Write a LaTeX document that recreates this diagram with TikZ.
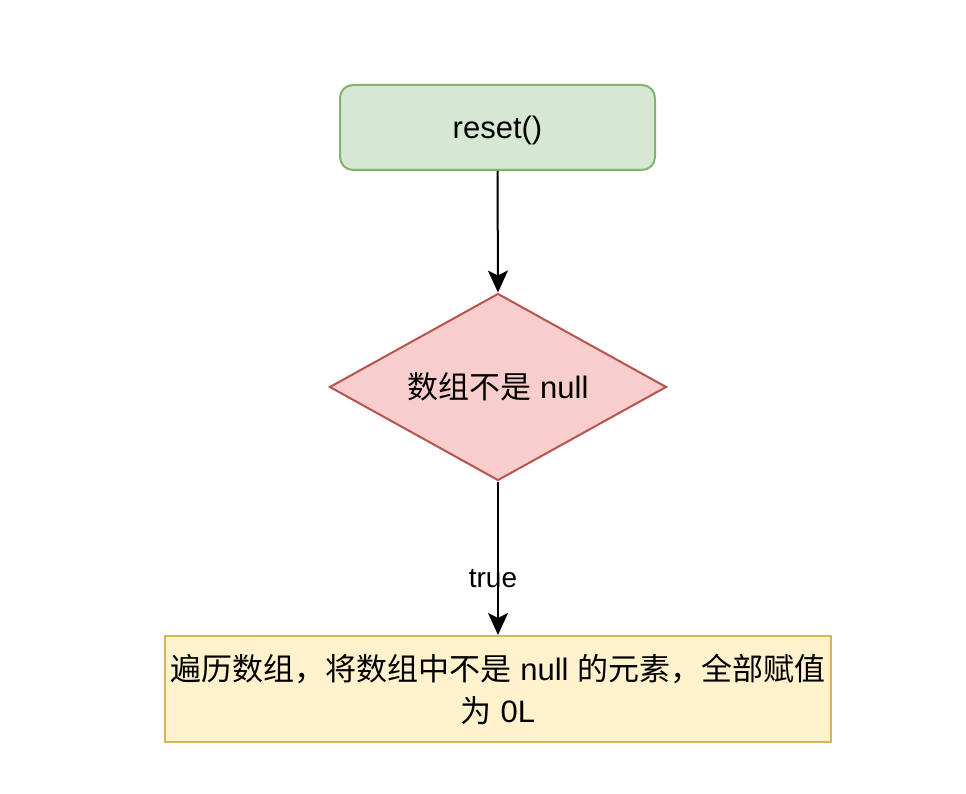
\documentclass[tikz,border=0pt]{standalone}
\usepackage{fontspec}
\setmainfont{Liberation Sans}
\newfontfamily\cjk{Noto Sans CJK SC}
\usetikzlibrary{shapes.geometric,arrows.meta}
\definecolor{gfill}{HTML}{D5E8D4}
\definecolor{gline}{HTML}{82B366}
\definecolor{rfill}{HTML}{F8CECC}
\definecolor{rline}{HTML}{B85450}
\definecolor{yfill}{HTML}{FFF2CC}
\definecolor{yline}{HTML}{D6B656}
\tikzset{
  bodytext/.style={font={\fontsize{31}{42}\selectfont}, text=black},
  startbox/.style={bodytext, draw=gline, fill=gfill, line width=2pt, rounded corners=13pt,
    minimum width=315pt, minimum height=85pt, inner sep=0pt},
  decision/.style={bodytext, diamond, draw=rline, fill=rfill, line width=2pt,
    minimum width=337pt, minimum height=187pt, aspect=1.8, inner sep=0pt},
  actbox/.style={bodytext, draw=yline, fill=yfill, line width=2pt,
    minimum width=666pt, minimum height=106pt, inner sep=0pt, align=center},
  arr/.style={line width=2pt, -{Stealth[length=22pt,width=20pt,inset=5pt]}},
  lbl/.style={font={\fontsize{28}{34}\selectfont}, text=black, inner sep=0pt}
}
\begin{document}
\begin{tikzpicture}[x=1pt,y=-1pt]
\useasboundingbox[fill=white] (0,0) rectangle (966,794);
\node[startbox] (start) at (497.5,127.5) {\raisebox{-3pt}[\height][\depth]{reset()}};
\node[decision] (dec) at (498,387) {{\cjk 数组不是} null};
\node[actbox] (act) at (498,689) {{\cjk 遍历数组，将数组中不是} null {\cjk 的元素，全部赋值}\\{\cjk 为} 0L};
\draw[arr] (start.south) -- (dec.north);
\draw[arr] (dec.south) -- (act.north);
\node[lbl] (t) at (493,579) {true};
\end{tikzpicture}
\end{document}
